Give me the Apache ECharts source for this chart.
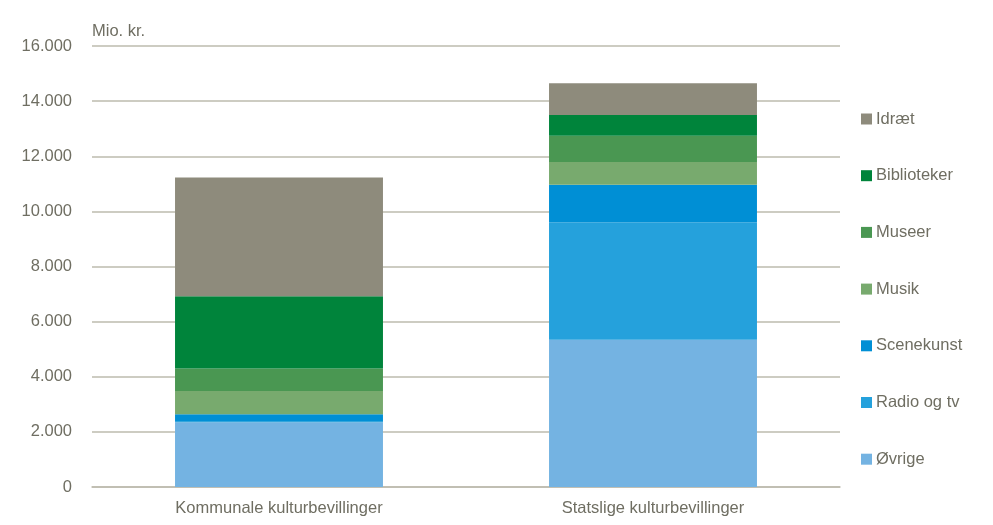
<!DOCTYPE html>
<html>
<head>
<meta charset="utf-8">
<script src="https://cdn.jsdelivr.net/npm/echarts@6/dist/echarts.min.js"></script>
<style>
  html, body { margin: 0; padding: 0; background: #fff; }
  #chart { width: 993px; height: 525px; }
</style>
</head>
<body>
<div id="chart"></div>
<script>
// categories on the x axis
const categories = ['Kommunale kulturbevillinger', 'Statslige kulturbevillinger'];

// series values, mio. kr. (bottom of stack first)
const ovrige      = [2350, 5340];
const radioOgTv   = [20, 4260];
const scenekunst  = [270, 1370];
const musik       = [840, 820];
const museer      = [820, 950];
const biblioteker = [2620, 760];
const idraet      = [4310, 1150];

const seriesNames = ['Øvrige', 'Radio og tv', 'Scenekunst', 'Musik', 'Museer', 'Biblioteker', 'Idræt'];
const seriesData = [ovrige, radioOgTv, scenekunst, musik, museer, biblioteker, idraet];
const colors = ['#74B3E2', '#25A1DC', '#008FD5', '#78AA6E', '#4A9752', '#00843B', '#8E8B7C'];

const yTicks = [0, 2000, 4000, 6000, 8000, 10000, 12000, 14000, 16000];

const font = '"Liberation Sans Narrow", "Arial Narrow", "Liberation Sans", Arial, sans-serif';
const textColor = '#6F6E62';
const fs = 16.5;

const chart = echarts.init(document.getElementById('chart'));

const fmt = v => v === 0 ? '0' : String(v).replace(/\B(?=(\d{3})+(?!\d))/g, '.');

const option = {
  animation: false,
  textStyle: { fontFamily: font },
  grid: { left: 92, right: 153, top: 46, bottom: 38, containLabel: false },
  graphic: [{
    type: 'text',
    left: 92,
    top: 23,
    style: { text: 'Mio. kr.', fill: textColor, font: fs + 'px ' + font }
  }],
  legend: {
    orient: 'vertical',
    left: 856,
    top: 104,
    itemWidth: 11,
    itemHeight: 11,
    itemGap: 36.7,
    icon: 'rect',
    data: seriesNames.slice().reverse(),
    textStyle: { color: textColor, fontSize: fs, fontFamily: font, lineHeight: 20, padding: [0, 0, 0, -1] }
  },
  xAxis: {
    type: 'category',
    data: categories,
    axisLine: { show: true, lineStyle: { color: '#BDBBAE', width: 1.5 } },
    axisTick: { show: false },
    axisLabel: { color: textColor, fontSize: fs, fontFamily: font, margin: 13 }
  },
  yAxis: {
    type: 'value',
    min: yTicks[0],
    max: yTicks[yTicks.length - 1],
    interval: 2000,
    axisLine: { show: false },
    axisTick: { show: false },
    splitLine: { lineStyle: { color: '#BDBBAE', width: 1.5 } },
    axisLabel: { color: textColor, fontSize: fs, fontFamily: font, margin: 20, formatter: fmt }
  },
  series: seriesNames.map((name, i) => ({
    name: name,
    type: 'bar',
    stack: 'total',
    barWidth: '55.6%',
    data: seriesData[i],
    itemStyle: { color: colors[i] }
  }))
};

chart.setOption(option);
</script>
</body>
</html>
